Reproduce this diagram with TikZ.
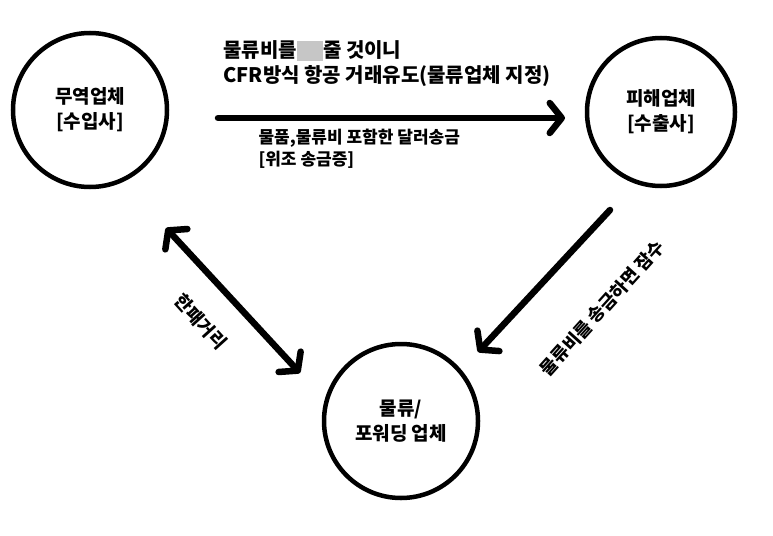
\documentclass[tikz,border=0pt]{standalone}
\usepackage{fontspec}
\setmainfont{Noto Sans CJK KR}[BoldFont={Noto Sans CJK KR Black}]
\usetikzlibrary{arrows.meta}
\begin{document}
\begin{tikzpicture}[x=1pt,y=-1pt,
  circ/.style={circle,draw,line width=4.5pt,minimum size=154pt,align=center,font=\bfseries\fontsize{19}{25}\selectfont},
  conn/.style={line width=6.5pt,line cap=round},
  lbl/.style={font=\bfseries\fontsize{20}{25}\selectfont,align=left}]
\tikzset{barb/.tip={Straight Barb[length=12pt,width=30pt,line width=6.5pt,round]}}
\useasboundingbox (0,0) rectangle (773,535);
\fill[white] (0,0) rectangle (773,535);
\node[circ] (imp) at (90,110) {무역업체\\{}[수입사]};
\node[circ,minimum size=148pt] (exp) at (661,112) {피해업체\\{}[수출사]};
\node[circ] (log) at (401,421) {물류/\\포워딩 업체};
\coordinate (a1) at (218,118); \coordinate (a2) at (565,118);
\draw[conn,-barb] (a1) -- (a2);
\coordinate (b1) at (166,228); \coordinate (b2) at (300,373);
\draw[conn,barb-barb] (b1) -- (b2);
\coordinate (c1) at (610,210); \coordinate (c2) at (478,352);
\draw[conn,-barb] (c1) -- (c2);
\node[lbl,anchor=west] (t1) at (220,51) {물류비를\textcolor{gray!45}{\rule[-3pt]{26pt}{20pt}}줄 것이니};
\node[lbl,anchor=west] (t2) at (220,76) {CFR방식 항공 거래유도(물류업체 지정)};
\node[lbl,anchor=west,font=\bfseries\fontsize{17}{22}\selectfont] (t3) at (255,149) {물품,물류비 포함한 달러송금\\{}[위조 송금증]};
\node[lbl,rotate=-48,font=\bfseries\fontsize{18}{22}\selectfont] (t4) at (201,322) {한패거리};
\node[lbl,rotate=48,font=\bfseries\fontsize{18}{22}\selectfont] (t5) at (602,308) {물류비를 송금하면 잠수};
\end{tikzpicture}
\end{document}
